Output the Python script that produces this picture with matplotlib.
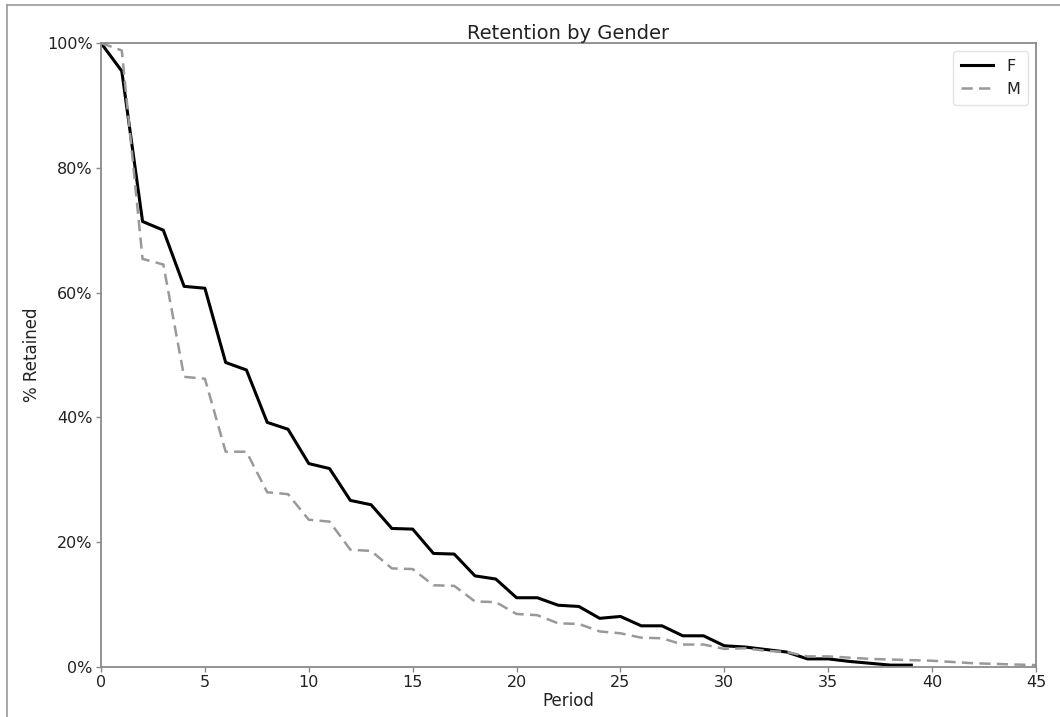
import matplotlib
matplotlib.use("Agg")
import matplotlib.pyplot as plt
from matplotlib.ticker import PercentFormatter

periods_f = list(range(0, 40))
retained_f = [1.000, 0.955, 0.714, 0.700, 0.610, 0.607, 0.488, 0.476, 0.392, 0.381,
              0.326, 0.318, 0.267, 0.260, 0.222, 0.221, 0.182, 0.181, 0.146, 0.141,
              0.111, 0.111, 0.099, 0.097, 0.078, 0.081, 0.066, 0.066, 0.050, 0.050,
              0.034, 0.032, 0.028, 0.024, 0.013, 0.013, 0.009, 0.006, 0.003, 0.003]

periods_m = list(range(0, 46))
retained_m = [1.000, 0.988, 0.654, 0.645, 0.465, 0.462, 0.345, 0.345, 0.280, 0.277,
              0.236, 0.233, 0.188, 0.186, 0.158, 0.157, 0.131, 0.130, 0.105, 0.104,
              0.085, 0.083, 0.070, 0.069, 0.057, 0.054, 0.047, 0.046, 0.036, 0.036,
              0.029, 0.030, 0.026, 0.024, 0.017, 0.017, 0.015, 0.013, 0.012, 0.011,
              0.010, 0.008, 0.006, 0.005, 0.004, 0.003]

series_labels = ["F", "M"]
x_ticks = [0, 5, 10, 15, 20, 25, 30, 35, 40, 45]
y_ticks = [0, 0.2, 0.4, 0.6, 0.8, 1.0]

W, H = 1060, 717
fig = plt.figure(figsize=(W / 100, H / 100), dpi=100)
left, right, top, bottom = 101, 1036, 43, 667
ax = fig.add_axes([left / W, 1 - bottom / H, (right - left) / W, (bottom - top) / H])

ax.plot(periods_f, retained_f, color="black", lw=2.2, label=series_labels[0])
ax.plot(periods_m, retained_m, color="#999999", lw=1.8, ls=(0, (4.5, 2.5)), label=series_labels[1])

ax.set_xlim(0, 45)
ax.set_ylim(0, 1)
ax.set_xticks(x_ticks)
ax.set_yticks(y_ticks)
ax.yaxis.set_major_formatter(PercentFormatter(1.0, decimals=0))

spine_c = "#8a8a8a"
for s in ax.spines.values():
    s.set_color(spine_c)
    s.set_linewidth(1.3)
ax.tick_params(direction="out", length=3.5, width=1, color=spine_c,
               labelsize=11.5, labelcolor="#222222", pad=2.5)

ax.set_title("Retention by Gender", fontsize=14, color="#222222", pad=3)
ax.set_xlabel("Period", fontsize=12, color="#222222", labelpad=1)
ax.set_ylabel("% Retained", fontsize=12, color="#222222")
ax.yaxis.set_label_coords((41 - left) / (right - left), 0.5)

leg = ax.legend(loc="upper right", fontsize=11.5, frameon=True, fancybox=True,
                handlelength=2.0, borderpad=0.5, labelspacing=0.5)
leg.get_frame().set_edgecolor("#dddddd")
for t in leg.get_texts():
    t.set_color("#222222")

# outer thin border (left and top edges)
fig.add_artist(plt.Line2D([7 / W, 7 / W], [0, 1 - 5 / H], transform=fig.transFigure,
                          color="#999999", lw=1.2))
fig.add_artist(plt.Line2D([7 / W, 1], [1 - 5 / H, 1 - 5 / H], transform=fig.transFigure,
                          color="#999999", lw=1.2))

fig.savefig("out.png", dpi=100)
